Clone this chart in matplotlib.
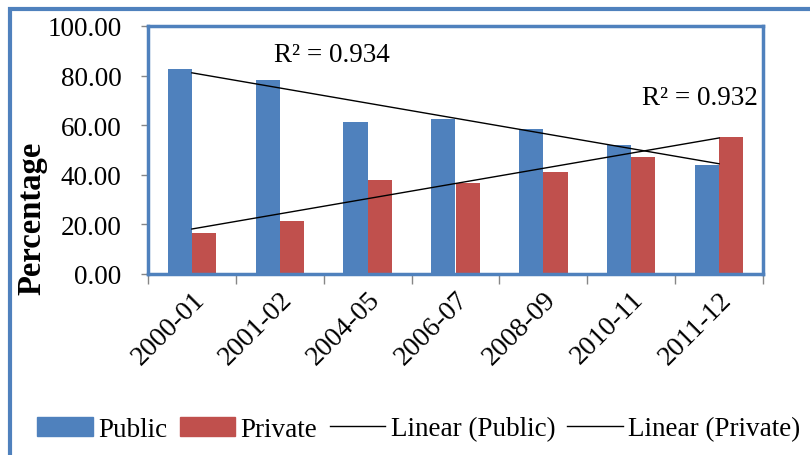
import matplotlib
matplotlib.use("Agg")
import matplotlib.pyplot as plt
import numpy as np
from matplotlib.patches import Rectangle, Patch
from matplotlib.lines import Line2D

categories = ["2000-01", "2001-02", "2004-05", "2006-07", "2008-09", "2010-11", "2011-12"]
public = [82.5, 78.3, 61.4, 62.7, 58.6, 52.2, 43.8]
private = [16.5, 21.3, 37.8, 36.5, 41.0, 47.0, 55.4]
r2_public = "R² = 0.934"
r2_private = "R² = 0.932"

plt.rcParams['font.family'] = ['Liberation Serif', 'DejaVu Serif']

BLUE = "#4F81BD"
RED = "#C0504D"
GRAY = "#868686"

fig = plt.figure(figsize=(8.1, 4.56), dpi=100)
ax = fig.add_axes([148/810, 1-275/456, (763-148)/810, (275-27)/456])

x = np.arange(len(categories))
w = 0.275
ax.bar(x - w/2, public, w, color=BLUE, label="Public", zorder=2)
ax.bar(x + w/2, private, w, color=RED, label="Private", zorder=2)

# linear trendlines
pp = np.polyfit(x, public, 1)
pr = np.polyfit(x, private, 1)
ax.plot(x, np.polyval(pp, x), color="black", lw=1.0, zorder=3)
ax.plot(x, np.polyval(pr, x), color="black", lw=1.0, zorder=3)

ax.text(1.59, 88.7, r2_public, fontsize=19.5, ha="center", va="center")
ax.text(5.78, 71.0, r2_private, fontsize=19.5, ha="center", va="center")

ax.set_xlim(-0.5, len(categories) - 0.5)
ax.set_ylim(0, 100)
ax.set_yticks(np.arange(0, 101, 20))
ax.set_yticklabels([f"{v:.2f}" for v in np.arange(0, 101, 20)], fontsize=19.5)
ax.set_xticks(x)
ax.set_xticklabels(categories, fontsize=20, rotation=45, ha="right",
                   rotation_mode="anchor")
ax.set_xticks(np.arange(-0.5, len(categories), 1), minor=True)
ax.tick_params(axis="x", which="major", length=0, pad=9)
ax.tick_params(axis="x", which="minor", length=7, color=GRAY, width=1)
ax.tick_params(axis="y", length=5, color=GRAY, width=1, pad=14)

for s in ax.spines.values():
    s.set_color(BLUE)
    s.set_linewidth(2.5)

ax.set_ylabel("Percentage", fontsize=23.5, fontweight="bold")
ax.yaxis.set_label_coords(-0.163, 0.23)

# outer chart frame (clipped at right and bottom)
fig.patches.append(Rectangle((10/810, -0.2), 1.2, 1.2 - 10/456,
                             transform=fig.transFigure, fill=False,
                             edgecolor=BLUE, lw=3.0))

handles = [Patch(color=BLUE), Patch(color=RED),
           Line2D([], [], color="black", lw=1.0), Line2D([], [], color="black", lw=1.0)]
labels = ["Public", "Private", "Linear (Public)", "Linear (Private)"]
fig.legend(handles, labels, loc="center", bbox_to_anchor=(419/810, 1-430/456), ncol=4,
           frameon=False, fontsize=19.5, handlelength=2.05, handletextpad=0.2,
           columnspacing=0.45, handleheight=0.7)

fig.savefig("out.png", dpi=100)
